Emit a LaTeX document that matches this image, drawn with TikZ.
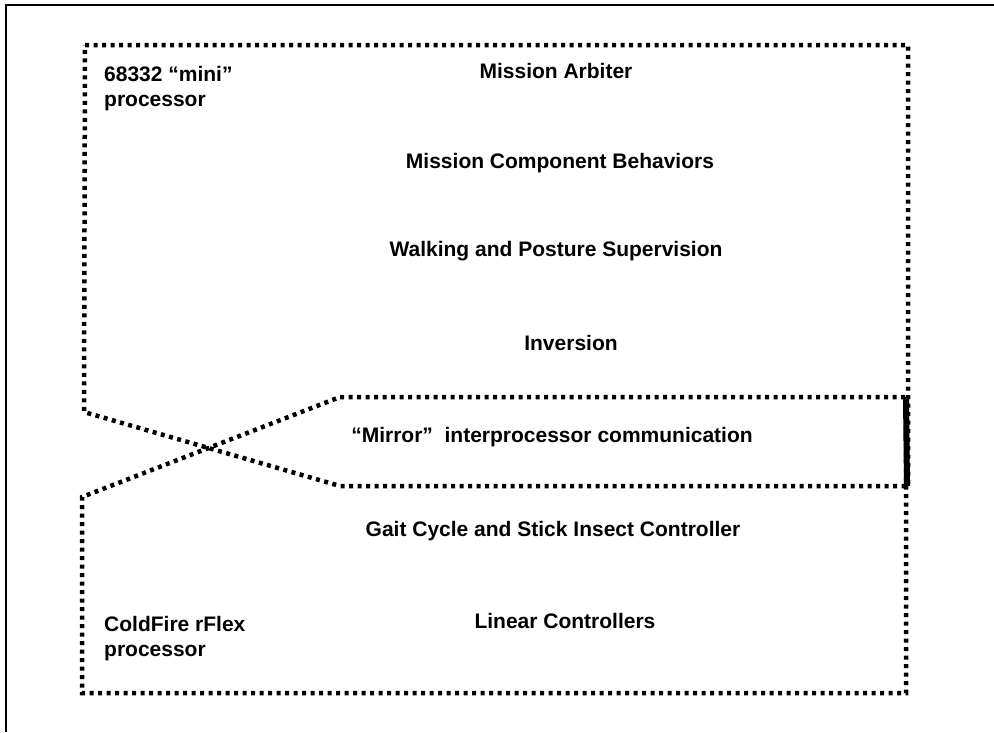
\documentclass[tikz,border=0pt]{standalone}
\usepackage{fontspec}
\setmainfont{Liberation Sans}
\usepackage{tikz}
\usetikzlibrary{positioning,calc}
\tikzset{
    boundary/.style={line width=4.5pt, dash pattern=on 4pt off 4.5pt, black},
    frame/.style={line width=1.6pt, black},
    bridge/.style={line width=6pt, black},
    layer/.style={font=\bfseries\fontsize{21}{25}\selectfont, inner sep=0pt},
    cpuname/.style={font=\bfseries\fontsize{21}{25}\selectfont, inner sep=0pt, align=left, anchor=north west}
}

\begin{document}
\begin{tikzpicture}[x=1pt, y=-1pt]
            \useasboundingbox (0,0) rectangle (994,732);
            % outer frame (top and left only)
            \draw[frame] (994,5) -- (6,5) -- (6,732);

            % 68332 side
            \coordinate (mtl) at (85,45);
            \coordinate (mtr) at (908,45);
            \coordinate (mbr) at (908,486);
            \coordinate (mbm) at (340,486);
            \coordinate (mbl) at (84,412);
            \draw[boundary] (mtl) -- (mtr) -- (mbr) -- (mbm) -- (mbl) -- cycle;

            % ColdFire side
            \coordinate (ctm) at (340,397);
            \coordinate (ctr) at (906,397);
            \coordinate (cbr) at (906,693);
            \coordinate (cbl) at (82,693);
            \coordinate (ctl) at (82,497);
            \draw[boundary] (ctm) -- (ctr) -- (cbr) -- (cbl) -- (ctl) -- cycle;

            % shared edge
            \draw[bridge] (ctr) -- ($(mbr)+(-1,0)$);

            % layers
            \node[layer] (arbiter) at (556,71) {Mission Arbiter};
            \node[layer] (behav) at (560,163) {Mission Component Behaviors};
            \node[layer] (walk) at (556,251) {Walking and Posture Supervision};
            \node[layer] (invert) at (571,343) {Inversion};
            \node[layer] (mirror) at (552,437) {``Mirror''\ \ interprocessor communication};
            \node[layer] (gait) at (553,531) {Gait Cycle and Stick Insect Controller};
            \node[layer] (linear) at (565,621) {Linear Controllers};

            % processors
            \node[cpuname] (mini) at (104,66) {68332 ``mini''\\processor};
            \node[cpuname] (cfire) at (104,616) {ColdFire rFlex\\processor};
\end{tikzpicture}
\end{document}
